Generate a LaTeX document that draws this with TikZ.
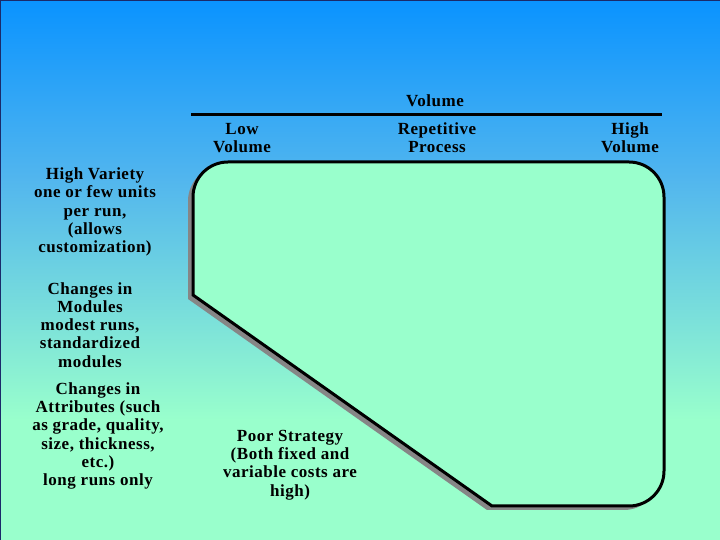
\documentclass[tikz,border=0pt]{standalone}
\usepackage{fontspec}
\setmainfont{Liberation Serif}[LetterSpace=3]
\begin{document}
\begin{tikzpicture}[x=1pt,y=1pt,
  lbl/.style={align=center,font=\fontsize{17}{18.2}\selectfont\bfseries,text=black,inner sep=0pt},
  shapeline/.style={line width=3pt,draw=black,fill=mint}]
\definecolor{topc}{HTML}{0A93FF}
\definecolor{midc}{HTML}{52B6EE}
\definecolor{mint}{HTML}{99FFCC}
\definecolor{framec}{HTML}{1A2A6A}
\useasboundingbox (0,0) rectangle (720,540);
% background
\fill[mint] (0,0) rectangle (720,121);
\shade[top color=midc,bottom color=mint] (0,120) rectangle (720,361);
\shade[top color=topc,bottom color=midc] (0,360) rectangle (720,540);
\draw[framec,line width=1.2pt] (0.6,0) -- (0.6,539.4) -- (720,539.4);
% shadow
\fill[gray!95] ([shift={(-5,-4)}]193,245) -- ++(0,98) arc[start angle=180,end angle=90,radius=35] -- ++(401,0) arc[start angle=90,end angle=0,radius=35] -- ++(0,-274) arc[start angle=0,end angle=-90,radius=35] -- ++(-137,0) -- cycle;
% main region
\draw[shapeline] (193,245) -- (193,343) arc[start angle=180,end angle=90,radius=35] -- (629,378) arc[start angle=90,end angle=0,radius=35] -- (664,69) arc[start angle=0,end angle=-90,radius=35] -- (492,34) -- cycle;
% axis
\coordinate (axl) at (191,425);
\coordinate (axr) at (662,425);
\draw[line width=3pt] (axl) -- (axr);
\node[lbl] (vol) at (435,439) {Volume};
\node[lbl] (low) at (242,402) {Low\\Volume};
\node[lbl] (rep) at (437,402) {Repetitive\\Process};
\node[lbl] (high) at (630,402) {High\\Volume};
\node[lbl] (hv) at (95,328) {High Variety\\one or few units\\per run,\\(allows\\customization)};
\node[lbl] (mod) at (90,215) {Changes in\\Modules\\modest runs,\\standardized\\modules};
\node[lbl] (att) at (98,104) {Changes in\\Attributes (such\\as grade, quality,\\size, thickness,\\etc.)\\long runs only};
\node[lbl] (poor) at (290,75) {Poor Strategy\\(Both fixed and\\variable costs are\\high)};
\end{tikzpicture}
\end{document}
